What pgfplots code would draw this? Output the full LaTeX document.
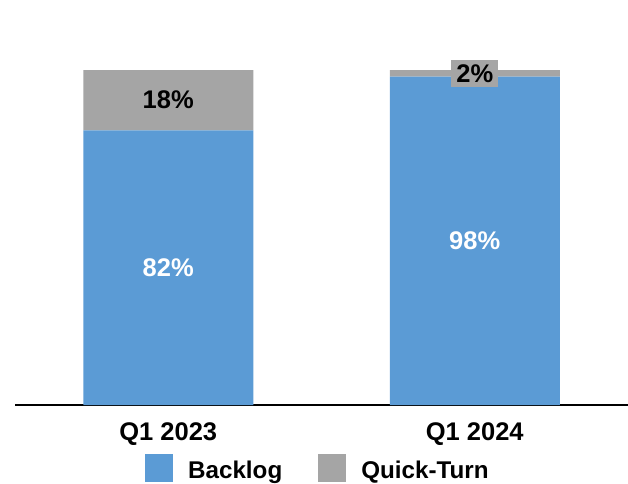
\documentclass[border=0pt]{standalone}
\usepackage{pgfplots}
\pgfplotsset{compat=1.18}
\usepackage{fontspec}
\setmainfont{Liberation Sans}
\definecolor{blu}{HTML}{5B9BD5}
\definecolor{gry}{HTML}{A5A5A5}
\begin{document}
\begin{tikzpicture}[font=\fontsize{25.5}{30}\selectfont\bfseries]
\begin{axis}[name=ax, scale only axis, width=613pt, height=405pt,
  xmin=-0.5, xmax=1.5, ymin=0, ymax=120.9,
  ybar stacked, bar width=170pt,
  axis x line*=bottom, hide y axis,
  axis line style={line width=1.5pt, -},
  xtick={0,1}, xticklabels={Q1 2023, Q1 2024},
  major tick length=0pt,
  xticklabel style={yshift=-14pt},
  legend style={at={(0.212,-0.1556)}, anchor=west, draw=none, fill=none,
    inner sep=0pt, column sep=15pt,
    font=\fontsize{24.2}{28}\selectfont\bfseries,
    /tikz/every even column/.append style={column sep=36pt},
    nodes={inner sep=0pt}},
  legend columns=2,
  legend image code/.code={\fill[#1] (0pt,-12pt) rectangle (28pt,16pt);},
]
\addplot[fill=blu, draw=none] coordinates {(0,82) (1,98)};
\addplot[fill=gry, draw=none] coordinates {(0,18) (1,2)};
\legend{Backlog, Quick-Turn}
\end{axis}
\begin{axis}[scale only axis, width=613pt, height=405pt,
  xmin=-0.5, xmax=1.5, ymin=0, ymax=120.9, hide axis,
  nodes near coords, point meta=explicit symbolic]
\addplot[draw=none, mark=none, nodes near coords style={text=white, anchor=center}]
  coordinates {(0,41) [82\%] (1,49) [98\%]};
\addplot[draw=none, mark=none, nodes near coords style={text=black, fill=gry, anchor=center, inner xsep=5pt, inner ysep=4.5pt}]
  coordinates {(0,91) [18\%] (1,99) [2\%]};
\end{axis}
\pgfresetboundingbox
\path (ax.south west) ++(-15pt,-78pt) rectangle (ax.north east);
\end{tikzpicture}
\end{document}
